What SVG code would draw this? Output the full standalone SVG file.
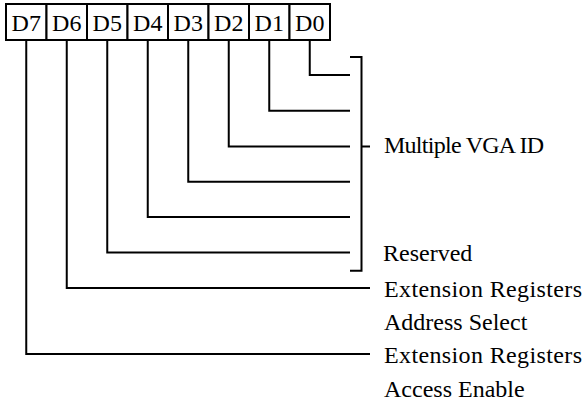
<svg xmlns="http://www.w3.org/2000/svg" width="586" height="411" viewBox="0 0 586 411">
<style>
.box{fill:#fff;stroke:#000;stroke-width:2}
.bt{font-family:'Liberation Serif','Times New Roman',serif;font-size:24px;text-anchor:middle;fill:#000}
.lbl{font-family:'Liberation Serif','Times New Roman',serif;font-size:24px;fill:#000}
.ln{fill:none;stroke:#000;stroke-width:2}
</style>
<rect width="586" height="411" fill="#fff"/>
<g id="register">
<g id="d7"><rect class="box" x="6" y="4" width="40.5" height="36"/><text class="bt" x="26.25" y="31">D7</text></g>
<g id="d6"><rect class="box" x="46.5" y="4" width="40.5" height="36"/><text class="bt" x="66.75" y="31">D6</text></g>
<g id="d5"><rect class="box" x="87" y="4" width="40.5" height="36"/><text class="bt" x="107.25" y="31">D5</text></g>
<g id="d4"><rect class="box" x="127.5" y="4" width="40.5" height="36"/><text class="bt" x="147.75" y="31">D4</text></g>
<g id="d3"><rect class="box" x="168" y="4" width="40.5" height="36"/><text class="bt" x="188.25" y="31">D3</text></g>
<g id="d2"><rect class="box" x="208.5" y="4" width="40.5" height="36"/><text class="bt" x="228.75" y="31">D2</text></g>
<g id="d1"><rect class="box" x="249" y="4" width="40.5" height="36"/><text class="bt" x="269.25" y="31">D1</text></g>
<g id="d0"><rect class="box" x="289.5" y="4" width="40.5" height="36"/><text class="bt" x="309.75" y="31">D0</text></g>
</g>
<g id="connectors">
<polyline class="ln" points="309.75,40 309.75,75 350,75"/>
<polyline class="ln" points="269.25,40 269.25,110.7 350,110.7"/>
<polyline class="ln" points="228.75,40 228.75,146.5 350,146.5"/>
<polyline class="ln" points="188.25,40 188.25,181.7 350,181.7"/>
<polyline class="ln" points="147.75,40 147.75,217 350,217"/>
<polyline class="ln" points="107.25,40 107.25,252.5 350,252.5"/>
<polyline class="ln" points="66.75,40 66.75,288 370,288"/>
<polyline class="ln" points="26.25,40 26.25,354 370,354"/>
<polyline class="ln" points="350,57 361.5,57 361.5,270.7 350,270.7"/>
<line class="ln" x1="361.5" y1="146.5" x2="370" y2="146.5"/>
</g>
<g id="labels">
<text class="lbl" x="384" y="152.5" textLength="160">Multiple VGA ID</text>
<text class="lbl" x="383" y="261">Reserved</text>
<text class="lbl" x="384" y="296.5" textLength="198">Extension Registers</text>
<text class="lbl" x="384" y="330">Address Select</text>
<text class="lbl" x="384" y="363" textLength="198">Extension Registers</text>
<text class="lbl" x="384" y="397">Access Enable</text>
</g>
</svg>
